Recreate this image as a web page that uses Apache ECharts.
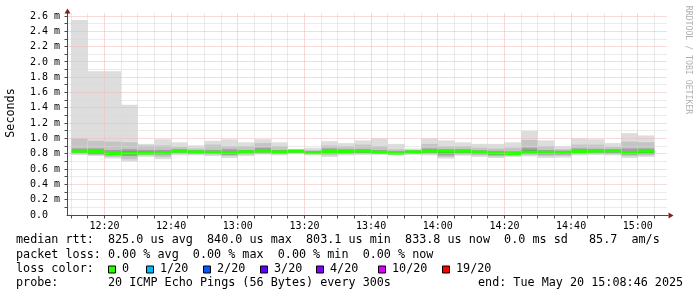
<!DOCTYPE html>
<html><head><meta charset="utf-8">
<script src="https://cdn.jsdelivr.net/npm/echarts@6/dist/echarts.min.js"></script>
<style>html,body{margin:0;padding:0;background:#fff}#c{width:697px;height:297px}</style>
</head><body><div id="c"></div>
<script>
// ---- data ----
const startTimes = ['12:10','12:15','12:20','12:25','12:30','12:35','12:40','12:45','12:50','12:55',
  '13:00','13:05','13:10','13:15','13:20','13:25','13:30','13:35','13:40','13:45',
  '13:50','13:55','14:00','14:05','14:10','14:15','14:20','14:25','14:30','14:35',
  '14:40','14:45','14:50','14:55','15:00'];
const maxV = [2.55,1.88,1.88,1.44,0.93,0.99,0.95,0.91,0.97,0.99,0.95,0.99,0.95,0.865,0.88,0.965,0.94,0.975,1.00,0.93,0.87,1.00,0.975,0.95,0.93,0.93,0.95,1.10,0.975,0.90,1.00,0.99,0.94,1.07,1.04];
const hi2 = [1.00,0.97,0.96,0.95,0.91,0.91,0.89,0.87,0.92,0.90,0.90,0.94,0.90,0.85,0.85,0.91,0.90,0.92,0.90,0.86,0.85,0.93,0.90,0.90,0.88,0.87,0.88,0.98,0.90,0.86,0.92,0.92,0.89,0.96,0.95];
const hi3 = [0.87,0.87,0.85,0.86,0.85,0.85,0.86,0.845,0.85,0.86,0.85,0.88,0.85,0.845,0.83,0.87,0.86,0.86,0.85,0.835,0.84,0.87,0.86,0.86,0.845,0.84,0.83,0.88,0.85,0.84,0.87,0.865,0.86,0.87,0.87];
const hi4 = [0.85,0.845,0.82,0.835,0.83,0.83,0.845,0.835,0.835,0.835,0.835,0.85,0.835,0.84,0.82,0.845,0.84,0.845,0.83,0.82,0.83,0.85,0.84,0.845,0.83,0.82,0.825,0.845,0.83,0.825,0.85,0.845,0.85,0.83,0.845];
const median = [0.836,0.830,0.805,0.812,0.812,0.815,0.836,0.825,0.820,0.815,0.826,0.838,0.825,0.835,0.816,0.830,0.830,0.836,0.822,0.812,0.825,0.836,0.834,0.834,0.822,0.812,0.803,0.822,0.820,0.818,0.830,0.837,0.840,0.815,0.834];
const lo4 = [0.825,0.80,0.79,0.795,0.805,0.80,0.825,0.81,0.81,0.80,0.815,0.83,0.81,0.83,0.805,0.82,0.815,0.82,0.815,0.805,0.815,0.825,0.81,0.82,0.81,0.795,0.795,0.81,0.81,0.805,0.82,0.83,0.825,0.80,0.815];
const lo3 = [0.815,0.795,0.78,0.77,0.795,0.79,0.815,0.805,0.80,0.785,0.805,0.815,0.805,0.82,0.80,0.80,0.805,0.815,0.805,0.80,0.81,0.81,0.78,0.805,0.795,0.78,0.785,0.80,0.79,0.79,0.81,0.815,0.81,0.79,0.795];
const lo2 = [0.80,0.785,0.76,0.73,0.78,0.76,0.80,0.795,0.79,0.77,0.79,0.80,0.795,0.81,0.795,0.78,0.795,0.80,0.80,0.79,0.80,0.795,0.76,0.79,0.78,0.765,0.775,0.785,0.77,0.775,0.795,0.80,0.795,0.77,0.78];
const minV = [0.785,0.77,0.74,0.70,0.76,0.73,0.78,0.78,0.77,0.745,0.77,0.79,0.78,0.80,0.78,0.76,0.78,0.785,0.785,0.78,0.785,0.78,0.737,0.775,0.76,0.745,0.76,0.765,0.745,0.75,0.78,0.785,0.78,0.745,0.76];

const xTickLabels = ['12:20','12:40','13:00','13:20','13:40','14:00','14:20','14:40','15:00'];
const yTickValues = [0,0.2,0.4,0.6,0.8,1.0,1.2,1.4,1.6,1.8,2.0,2.2,2.4,2.6];
const rangeStart = '12:08:46';
const rangeEnd = '15:08:46';
const stepMin = 5; // probe every 300s

const statsRows = [
  'median rtt:  825.0 us avg  840.0 us max  803.1 us min  833.8 us now  0.0 ms sd   85.7  am/s',
  'packet loss: 0.00 % avg  0.00 % max  0.00 % min  0.00 % now',
  'loss color:',
  'probe:       20 ICMP Echo Pings (56 Bytes) every 300s'
];
const endText = 'end: Tue May 20 15:08:46 2025';
const lossLabels = ['0','1/20','2/20','3/20','4/20','10/20','19/20'];
const lossColors = ['#26ff00','#00b8ff','#0059ff','#5e00ff','#7e00ff','#dd00ff','#ff0000'];
const yAxisTitle = 'Seconds';
const watermark = 'RRDTOOL / TOBI OETIKER';

// ---- helpers ----
function toMin(s){const p=s.split(':').map(Number);return p[0]*60+p[1]+(p[2]||0)/60;}
const xMin = toMin(rangeStart), xEnd = toMin(rangeEnd);
const xMax = xEnd + 0.3;
const yMax = 2.6405;
const yGridTop = 2.6405;
const MONO = 'DejaVu Sans Mono';

const t = startTimes.map(toMin);
function bandData(lo, hi){return t.map((v,i)=>[v, lo[i], hi[i]]);}
function bandSeries(lo, hi, color, z){
  return {type:'custom', z:z, silent:true, clip:true,
    data: bandData(lo, hi), encode:{x:0,y:[1,2]},
    renderItem:(params, api)=>{
      const a=api.coord([api.value(0), api.value(2)]);
      const b=api.coord([api.value(0)+stepMin, api.value(1)]);
      return {type:'rect', shape:{x:a[0], y:a[1], width:b[0]-a[0], height:b[1]-a[1]}, style:{fill:color}};
    }};
}

const majorX = xTickLabels.map(toMin);
const vLines = [];
for (let m = Math.ceil(xMin/5)*5; m <= xEnd; m += 5) vLines.push([m, majorX.some(v=>Math.abs(v-m)<1e-6)?1:0]);
const hLines = [];
for (let k = 1; k <= 26; k++) { const v = k/10; hLines.push([v, yTickValues.some(y=>Math.abs(y-v)<1e-6)?1:0]); }

const MINOR = '#d6d6d6', MAJOR = '#efb4b4', AXIS = '#4a4a4a', ARROW = '#801f1f';

const option = {
  animation:false,
  backgroundColor:'#ffffff',
  grid:{left:67, top:13, right:29, bottom:82},
  xAxis:{type:'value', min:xMin, max:xMax,
    axisLine:{show:true, onZero:false, lineStyle:{color:AXIS, width:1}},
    axisTick:{show:false}, splitLine:{show:false},
    axisLabel:{customValues: majorX, margin:6, fontFamily:MONO, fontSize:10, color:'#000',
      formatter:(v)=>{const h=Math.floor(v/60+1e-9), m=Math.round(v-h*60);return String(h).padStart(2,'0')+':'+String(m).padStart(2,'0');}}
  },
  yAxis:{type:'value', min:0, max:yMax,
    axisLine:{show:true, onZero:false, lineStyle:{color:AXIS, width:1}},
    axisTick:{show:false}, splitLine:{show:false},
    axisLabel:{customValues: yTickValues, align:'left', margin:37, fontFamily:MONO, fontSize:10, color:'#000',
      formatter:(v)=> v===0 ? '0.0' : v.toFixed(1)+' m'}
  },
  series:[
    bandSeries(minV, maxV, '#dddddd', 2),
    bandSeries(lo2, hi2, '#c4c4c4', 3),
    bandSeries(lo3, hi3, '#a0a0a0', 4),
    bandSeries(lo4, hi4, '#6a6a6a', 5),
    {type:'custom', z:6, silent:true, data: t.map((v,i)=>[v, median[i]]), encode:{x:0,y:1},
      renderItem:(params, api)=>{
        const a=api.coord([api.value(0), api.value(1)]);
        const b=api.coord([api.value(0)+stepMin, api.value(1)]);
        return {type:'rect', shape:{x:a[0], y:a[1]-1.6, width:b[0]-a[0], height:3.2}, style:{fill:lossColors[0]}};
      }},
    {type:'custom', z:8, silent:true, data: vLines, encode:{x:0},
      renderItem:(params, api)=>{
        const p0=api.coord([api.value(0), 0]), p1=api.coord([api.value(0), yGridTop]);
        const x=Math.floor(p0[0])+0.5, y0=Math.floor(p0[1])+0.5;
        const major=api.value(1)===1;
        return {type:'group', children:[
          {type:'line', shape:{x1:x,y1:y0-1,x2:x,y2:Math.round(p1[1])}, style:{stroke:major?MAJOR:MINOR, lineWidth:1, lineDash:[1,1]}},
          {type:'line', shape:{x1:x,y1:y0,x2:x,y2:y0+3}, style:{stroke:AXIS, lineWidth:1}}
        ]};
      }},
    {type:'custom', z:8, silent:true, data: hLines, encode:{y:0},
      renderItem:(params, api)=>{
        const p0=api.coord([xMin, api.value(0)]), p1=api.coord([xEnd, api.value(0)]);
        const y=Math.floor(p0[1])+0.5, x0=Math.floor(p0[0])+0.5;
        const major=api.value(1)===1;
        return {type:'group', children:[
          {type:'line', shape:{x1:x0+1,y1:y,x2:Math.round(p1[0]),y2:y}, style:{stroke:major?MAJOR:MINOR, lineWidth:1, lineDash:[1,1]}},
          {type:'line', shape:{x1:x0-3,y1:y,x2:x0,y2:y}, style:{stroke:AXIS, lineWidth:1}}
        ]};
      }},
    {type:'custom', z:9, silent:true, data:[[xMax, 0, 0],[xMin, yMax, 1]], encode:{x:0,y:1},
      renderItem:(params, api)=>{
        const p=api.coord([api.value(0), api.value(1)]);
        const x=Math.floor(p[0])+0.5, y=Math.floor(p[1])+0.5;
        const pts = api.value(2)===0 ? [[x,y-3],[x+5,y],[x,y+3]] : [[x-3,y],[x,y-5],[x+3,y]];
        return {type:'polygon', shape:{points:pts}, style:{fill:ARROW}};
      }}
  ],
  graphic:[]
};

const rowY = [241, 255.5, 269.5, 283.5];
statsRows.forEach((s,i)=>option.graphic.push({type:'text', left:16, top:rowY[i]-7, silent:true,
  style:{text:s, font:'11.75px "DejaVu Sans Mono"', fill:'#000'}}));
option.graphic.push({type:'text', left:478, top:rowY[3]-7, silent:true, style:{text:endText, font:'11.75px "DejaVu Sans Mono"', fill:'#000'}});
const boxX = [108.5,146.5,203.5,260.5,316.5,378.5,442.5];
lossLabels.forEach((l,i)=>{
  option.graphic.push({type:'rect', silent:true, shape:{x:boxX[i], y:rowY[2]-3.5, width:7, height:7}, style:{fill:lossColors[i], stroke:'#000', lineWidth:1}});
  option.graphic.push({type:'text', silent:true, left:boxX[i]+13.5, top:rowY[2]-7, style:{text:l, font:'11.75px "DejaVu Sans Mono"', fill:'#000'}});
});
option.graphic.push({type:'text', silent:true, x:11, y:113, rotation:Math.PI/2,
  style:{text:yAxisTitle, font:'11.75px "DejaVu Sans Mono"', fill:'#000', align:'center', verticalAlign:'middle'}});
option.graphic.push({type:'text', silent:true, x:688, y:60, rotation:-Math.PI/2,
  style:{text:watermark, font:'8.2px "DejaVu Sans Mono"', fill:'#b0b0b0', align:'center', verticalAlign:'middle'}});

const chart = echarts.init(document.getElementById('c'), null, {renderer:'canvas'});
chart.setOption(option);
</script></body></html>
